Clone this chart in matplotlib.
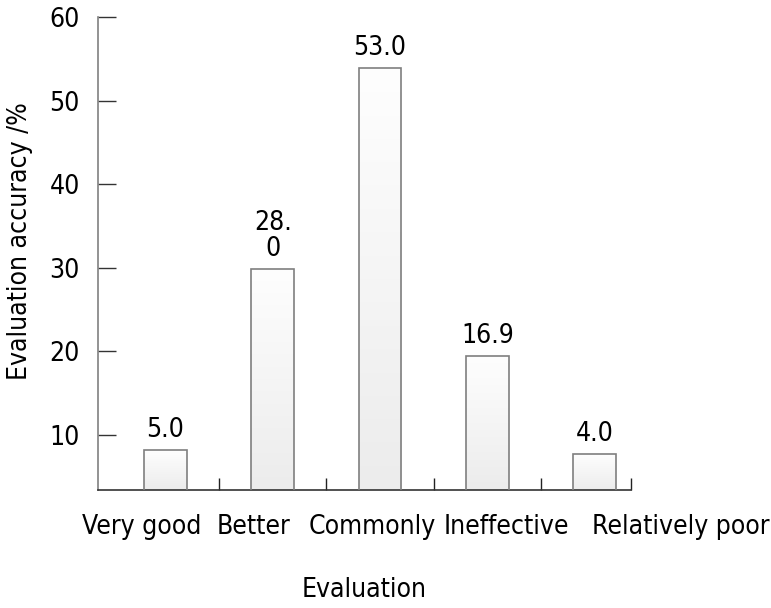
#!/usr/bin/env python3
"""
Bar chart: evaluation accuracy by evaluation category
"""

import matplotlib
matplotlib.use('Agg')
import matplotlib.pyplot as plt
import matplotlib.transforms as mtransforms
import numpy as np

# Data
categories = ['Very good', 'Better', 'Commonly', 'Ineffective', 'Relatively poor']
bar_heights = [8.2, 29.9, 53.9, 19.5, 7.7]
value_labels = ['5.0', '28.\n0', '53.0', '16.9', '4.0']
y_ticks = [10, 20, 30, 40, 50, 60]

plt.rcParams['font.family'] = ['DejaVu Sans']
plt.rcParams['font.stretch'] = 'condensed'

FS = 19


def main():
    fig = plt.figure(figsize=(7.71, 6.08), dpi=100, facecolor='white')
    ax = fig.add_axes([0.1271, 0.1941, 0.6913, 0.7779])
    ax.set_xlim(-0.629, 4.34)
    ax.set_ylim(3.42, 60)

    x = np.arange(len(categories))
    width = 0.40
    bars = ax.bar(x, bar_heights, width=width, facecolor='none',
                  edgecolor='#7f7f7f', linewidth=1.2, zorder=3)

    # vertical gradient fill, white at top to light gray at bottom
    grad = np.linspace(0.0, 1.0, 256).reshape(-1, 1)
    cmap = matplotlib.colors.LinearSegmentedColormap.from_list('g', ['#ececec', '#fefefe'])
    ybot = ax.get_ylim()[0]
    for rect in bars:
        x0 = rect.get_x()
        im = ax.imshow(grad, extent=[x0, x0 + rect.get_width(), ybot, rect.get_height()],
                       cmap=cmap, aspect='auto', origin='lower', zorder=2)
        im.set_clip_path(rect)
        im.set_clip_box(ax.bbox)
    ax.set_xlim(-0.629, 4.34)
    ax.set_ylim(3.42, 60)

    # value labels
    for xi, h, lab in zip(x, bar_heights, value_labels):
        ax.annotate(lab, (xi, h), xytext=(0, 5), textcoords='offset points',
                    ha='center', va='bottom', fontsize=FS, linespacing=1.0)

    # y axis
    ax.set_yticks(y_ticks)
    ax.tick_params(axis='y', direction='in', length=13, width=1.0, pad=13,
                   labelsize=FS, color='#333333')

    # x axis: labels at bars, tick marks between bars
    ax.set_xticks(x)
    ax.set_xticklabels(categories)
    ax.set_xticks([0.5, 1.5, 2.5, 3.5, 4.34], minor=True)
    ax.tick_params(axis='x', which='major', length=0, pad=17, labelsize=FS)
    ax.tick_params(axis='x', which='minor', direction='in', length=9, width=1.0,
                   color='#222222')

    # nudge category labels as in the original layout
    shifts = [-24, -19, -8, 19, 86]
    for lbl, dx in zip(ax.get_xticklabels(), shifts):
        offset = mtransforms.ScaledTranslation(dx / 100, 0, fig.dpi_scale_trans)
        lbl.set_transform(lbl.get_transform() + offset)

    for side in ['top', 'right']:
        ax.spines[side].set_visible(False)
    ax.spines['left'].set_color('#808080')
    ax.spines['left'].set_linewidth(1.2)
    ax.spines['bottom'].set_color('#333333')
    ax.spines['bottom'].set_linewidth(1.2)

    ax.set_xlabel('Evaluation', fontsize=FS, labelpad=27)
    ax.set_ylabel('Evaluation accuracy /%', fontsize=FS)
    ax.yaxis.set_label_coords(-0.122, 0.526)

    fig.savefig('out.png', dpi=100, facecolor='white')
    plt.close(fig)


if __name__ == "__main__":
    main()
